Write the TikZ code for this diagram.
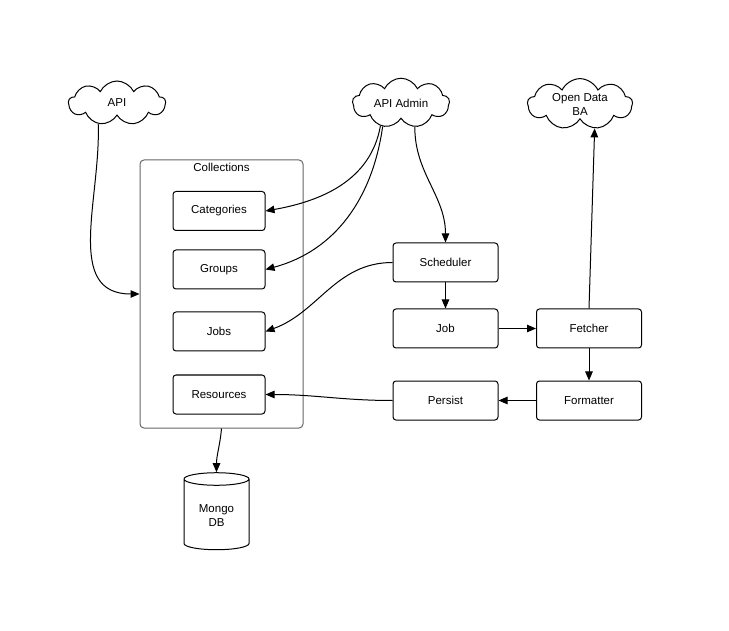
\documentclass[tikz,border=0pt]{standalone}
\usepackage{fontspec}
\setmainfont{Liberation Sans}
\usetikzlibrary{shapes.symbols,shapes.geometric,arrows.meta}

\begin{document}
\begin{tikzpicture}[x=1pt, y=-1pt, line width=1pt,
		>={Triangle[length=9pt,width=7.5pt]},
		font=\fontsize{11.5}{14}\selectfont,
		box/.style={draw, rounded corners=3pt, minimum width=92pt, minimum height=39pt},
		wbox/.style={draw, rounded corners=3pt, minimum width=105pt, minimum height=39pt},
		puff/.style={draw, cloud, cloud puffs=9, cloud puff arc=130, aspect=2.2, inner sep=0pt, minimum width=97pt, minimum height=44pt, align=center}]
		\useasboundingbox (0,0) rectangle (729,631);

		% clouds
		\node[puff] (api) at (117,103) {API};
		\node[puff] (admin) at (401,103) {API Admin};
		\node[puff, minimum width=105pt, minimum height=48pt] (odata) at (580,104) {Open Data\\BA};

		% collections
		\node[draw=black!60, rounded corners=4pt, minimum width=163pt, minimum height=268pt] (coll) at (221.5,294) {};
		\node[anchor=north, inner sep=3pt] (colltitle) at (coll.north) {Collections};
		\node[box] (cat) at (219,211) {Categories};
		\node[box] (grp) at (219,269.5) {Groups};
		\node[box] (jobs) at (219,331.5) {Jobs};
		\node[box] (res) at (219,394.5) {Resources};

		\node[draw, cylinder, shape border rotate=90, aspect=0.3, minimum width=65pt, minimum height=77pt, align=center] (mongo) at (216.5,516) {Mongo\\DB};

		% worker
		\node[wbox] (sched) at (445.5,262.5) {Scheduler};
		\node[wbox] (job) at (445.5,328.5) {Job};
		\node[wbox] (fetch) at (589,328.5) {Fetcher};
		\node[wbox] (persist) at (445.5,400.5) {Persist};
		\node[wbox] (fmt) at (589,400.5) {Formatter};

		\draw[->] (api.228) to[out=-88, in=180, looseness=1.1] (coll.west);
		\draw[->] (admin.228) to[out=-100, in=10] (cat.east);
		\draw[->] (admin.232) to[out=-98, in=15] (grp.east);
		\draw[->] (admin.300) to[out=-90, in=90] (sched.north);
		\draw[->] (sched.west) to[out=180, in=20] (jobs.east);
		\draw[->] (sched) -- (job);
		\draw[->] (job) -- (fetch);
		\draw[->] (fetch.north) -- (odata.-59);
		\draw[->] (fetch) -- (fmt);
		\draw[->] (fmt) -- (persist);
		\draw[->] (persist.west) to[out=180, in=0] (res.east);
		\draw[->] (coll.south) to[out=-95, in=90] (mongo.top);
	\end{tikzpicture}
\end{document}
